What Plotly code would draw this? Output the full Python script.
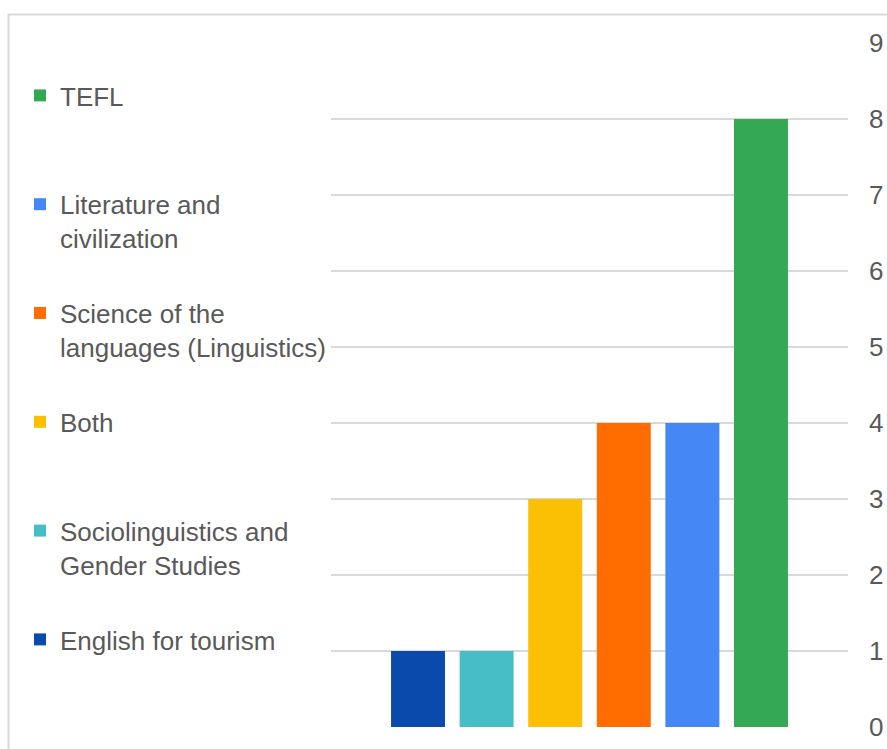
import plotly.graph_objects as go

# Survey answers: preferred specialization
specialties = [
    "English for tourism",
    "Sociolinguistics and<br>Gender Studies",
    "Both",
    "Science of the<br>languages (Linguistics)",
    "Literature and<br>civilization",
    "TEFL",
]
counts = [1, 1, 3, 4, 4, 8]
colors = ["#0B4AAD", "#47BDC6", "#FBBF03", "#FF6D00", "#4487F5", "#34A853"]
y_ticks = list(range(0, 10))

W, H = 887, 749
L, R, T, B = 331, 39, 43, 22
FONT = "Liberation Sans, Arial, sans-serif"
TEXT = "#595959"
FS = 26

fig = go.Figure()
n = len(specialties)
for i, (name, val, col) in enumerate(zip(specialties, counts, colors)):
    # pad single-line names so every legend entry takes the same height
    label = name if "<br>" in name else name + "<br> "
    fig.add_trace(go.Bar(
        x=["Specialty"], y=[val], name=label, legendgroup=name,
        legendrank=n - i,
        marker=dict(color=col, line=dict(width=0)),
        hoverinfo="y+name",
    ))

fig.update_layout(
    width=W, height=H,
    margin=dict(l=L, r=R, t=T, b=B),
    paper_bgcolor="white", plot_bgcolor="white",
    font=dict(family=FONT, size=FS, color=TEXT),
    barmode="group", bargap=0.204, bargroupgap=0.213,
    showlegend=True,
    legend=dict(
        xref="container", yref="container",
        x=20 / W, xanchor="left",
        y=1 - 72 / H, yanchor="top",
        maxheight=H,
        traceorder="grouped", tracegroupgap=38.2,
        valign="top", bgcolor="rgba(0,0,0,0)",
        font=dict(family=FONT, size=FS, color=TEXT),
    ),
    xaxis=dict(showticklabels=False, showgrid=False, zeroline=False,
               showline=False, ticks="", automargin=False),
    yaxis=dict(side="right", range=[0, 9], tickvals=y_ticks,
               showgrid=True, gridcolor="#D9D9D9", gridwidth=2,
               zeroline=False, showline=False, ticks="",
               automargin=False, ticklabelstandoff=20,
               tickfont=dict(family=FONT, size=FS, color=TEXT)),
    shapes=[dict(type="rect", xref="paper", yref="paper",
                 x0=(8.5 - L) / (W - L - R), x1=1.2,
                 y0=-0.2, y1=1 + (T - 14.5) / (H - T - B),
                 line=dict(color="#D9D9D9", width=2), layer="below")],
)

fig.write_html("out.html")
